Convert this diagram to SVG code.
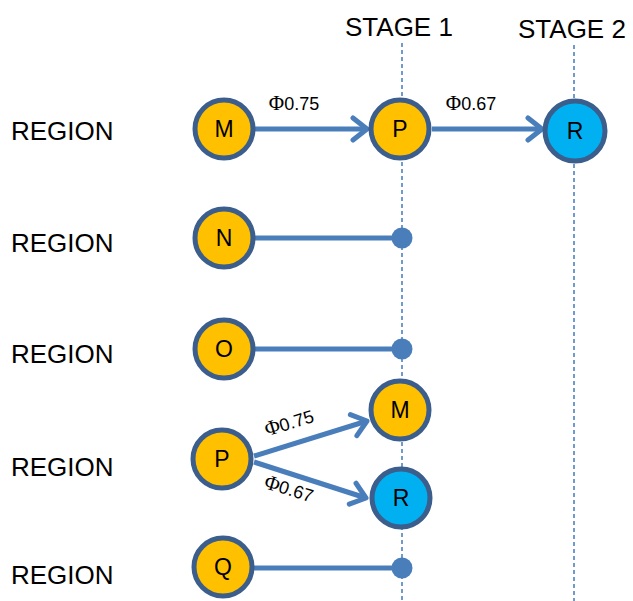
<svg xmlns="http://www.w3.org/2000/svg" width="633" height="601" viewBox="0 0 633 601">
<style>
.bg{fill:#fff}
.guide{stroke:#4F81BD;stroke-width:1.6;stroke-dasharray:4 3;fill:none}
.edge{stroke:#4A7EBB;stroke-width:5;fill:none}
.dot{fill:#4A7EBB}
.node{stroke:#3B5E8C;stroke-width:5}
.o{fill:#FFC000}
.b{fill:#00B0F0}
.nl{font-family:"Liberation Sans",Arial,sans-serif;font-size:23px;fill:#000;text-anchor:middle}
.rl{font-family:"Liberation Sans",Arial,sans-serif;font-size:26px;fill:#000}
.el{font-family:"Liberation Sans",Arial,sans-serif;font-size:18px;fill:#000;text-anchor:middle}
.phi{font-family:"Liberation Serif","Times New Roman",serif;font-size:21px}
</style>
<defs>
<marker id="arr" markerUnits="userSpaceOnUse" markerWidth="24" markerHeight="28" viewBox="0 0 24 28" refX="19" refY="14" orient="auto">
<path d="M5,3 L19,14 L5,25" fill="none" stroke="#4A7EBB" stroke-width="5" stroke-linecap="round" stroke-linejoin="round"/>
</marker>
</defs>
<rect class="bg" x="0" y="0" width="633" height="601"/>
<g id="headers">
<text class="rl" x="345" y="36">STAGE 1</text>
<text class="rl" x="518" y="38">STAGE 2</text>
</g>
<g id="guides">
<line class="guide" x1="402" y1="43" x2="402" y2="601"/>
<line class="guide" x1="574" y1="45" x2="574" y2="601"/>
</g>
<g id="region-labels">
<text class="rl" x="11" y="140">REGION</text>
<text class="rl" x="11" y="252">REGION</text>
<text class="rl" x="11" y="363">REGION</text>
<text class="rl" x="11" y="476">REGION</text>
<text class="rl" x="11" y="584">REGION</text>
</g>
<g id="connectors">
<line class="edge" x1="255" y1="129" x2="367" y2="129" marker-end="url(#arr)"/>
<line class="edge" x1="432" y1="129" x2="542" y2="129" marker-end="url(#arr)"/>
<line class="edge" x1="254" y1="238" x2="402" y2="238"/>
<circle class="dot" cx="402" cy="238" r="10.5"/>
<line class="edge" x1="254" y1="349" x2="402" y2="349"/>
<circle class="dot" cx="402" cy="349" r="10.5"/>
<line class="edge" x1="254" y1="456" x2="367" y2="421" marker-end="url(#arr)"/>
<line class="edge" x1="254" y1="462" x2="366" y2="498" marker-end="url(#arr)"/>
<line class="edge" x1="254" y1="568" x2="402" y2="568"/>
<circle class="dot" cx="402" cy="568" r="10.5"/>
<text class="el" x="294" y="110"><tspan class="phi">Φ</tspan>0.75</text>
<text class="el" x="471" y="110"><tspan class="phi">Φ</tspan>0.67</text>
<text class="el" transform="translate(291,429) rotate(-17)"><tspan class="phi">Φ</tspan>0.75</text>
<text class="el" transform="translate(287,495) rotate(17)"><tspan class="phi">Φ</tspan>0.67</text>
</g>
<g id="n-M1"><circle class="node o" cx="224" cy="129" r="29"/><text class="nl" x="224" y="137">M</text></g>
<g id="n-P1"><circle class="node o" cx="400" cy="129" r="29"/><text class="nl" x="400" y="137">P</text></g>
<g id="n-R2"><circle class="node b" cx="575" cy="131" r="30"/><text class="nl" x="575" y="139">R</text></g>
<g id="n-N"><circle class="node o" cx="224" cy="238" r="29"/><text class="nl" x="224" y="246">N</text></g>
<g id="n-O"><circle class="node o" cx="224" cy="349" r="29"/><text class="nl" x="224" y="357">O</text></g>
<g id="n-P4"><circle class="node o" cx="222" cy="459" r="29"/><text class="nl" x="222" y="467">P</text></g>
<g id="n-M4"><circle class="node o" cx="400" cy="410" r="29"/><text class="nl" x="400" y="418">M</text></g>
<g id="n-R4"><circle class="node b" cx="401" cy="498" r="29"/><text class="nl" x="401" y="506">R</text></g>
<g id="n-Q"><circle class="node o" cx="223" cy="567" r="29"/><text class="nl" x="223" y="575">Q</text></g>
</svg>
